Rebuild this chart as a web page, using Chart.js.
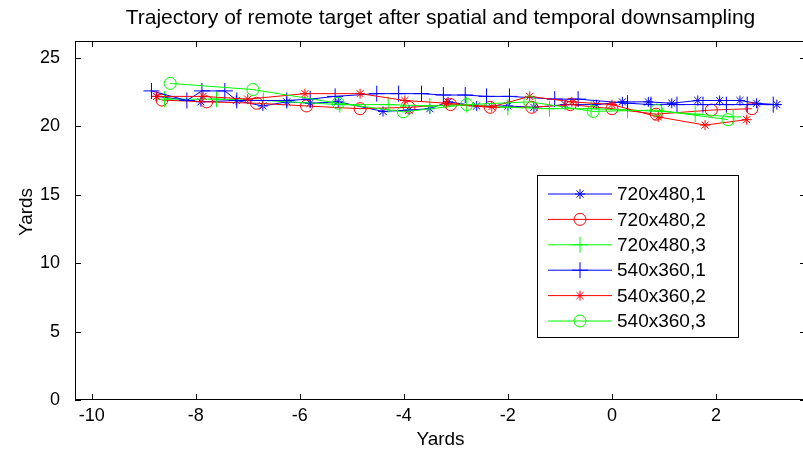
<!DOCTYPE html>
<html>
<head>
<meta charset="utf-8">
<script src="https://cdn.jsdelivr.net/npm/chart.js@4.4.1/dist/chart.umd.min.js"></script>
<style>
  html, body { margin: 0; padding: 0; background: #fff; overflow: hidden; }
  #wrap { width: 803px; height: 458px; overflow: hidden; }
</style>
</head>
<body>
<div id="wrap"><canvas id="chart" width="808" height="458"></canvas></div>
<script>
// trajectories (yards)
const x_720_1 = [-8.75, -7.9, -7.22, -6.71, -6.25, -5.8, -5.26, -4.4, -3.9, -3.5, -3.15, -2.6, -2.0, -1.5, -0.9, -0.3, 0.2, 0.7, 1.15, 1.65, 2.07, 2.46, 2.78, 3.17];
const y_720_1 = [22.2, 21.8, 21.9, 21.5, 21.8, 21.7, 21.8, 21.1, 21.2, 21.3, 21.8, 21.5, 21.5, 21.4, 21.6, 21.6, 21.8, 21.8, 21.7, 21.9, 21.9, 21.9, 21.7, 21.6];

const x_720_2 = [-8.65, -7.79, -6.83, -5.87, -4.84, -3.9, -3.1, -2.34, -1.54, -0.8, 0.0, 0.85, 1.91, 2.69];
const y_720_2 = [21.93, 21.8, 21.7, 21.5, 21.3, 21.4, 21.6, 21.4, 21.4, 21.6, 21.3, 20.9, 21.2, 21.3];

const x_720_3 = [-8.6, -7.6, -6.7, -5.23, -4.3, -3.5, -2.79, -2.0, -1.2, -0.4, 0.3, 0.95, 1.6, 2.33];
const y_720_3 = [22.0, 22.0, 21.9, 21.6, 21.6, 21.5, 21.6, 21.4, 21.3, 21.3, 21.2, 21.1, 20.9, 20.7];

const x_540_1 = [-8.85, -8.17, -7.88, -7.44, -7.21, -6.25, -5.8, -5.32, -4.52, -4.1, -3.66, -3.24, -2.82, -2.41, -1.97, -1.1, -0.65, 0.3, 0.75, 1.25, 1.75, 2.2, 2.6, 3.1];
const y_540_1 = [22.6, 21.9, 22.6, 22.6, 21.9, 21.9, 22.0, 22.2, 22.4, 22.4, 22.4, 22.3, 22.3, 22.2, 22.2, 22.0, 22.0, 21.7, 21.6, 21.6, 21.6, 21.6, 21.6, 21.6];

const x_540_2 = [-8.75, -7.86, -7.0, -5.9, -4.84, -3.98, -3.18, -2.31, -1.58, -0.77, 0.0, 0.89, 1.79, 2.59];
const y_540_2 = [22.2, 22.2, 22.0, 22.4, 22.4, 21.9, 21.7, 21.44, 22.2, 21.8, 21.6, 20.7, 20.1, 20.5];

const x_540_3 = [-8.49, -6.9, -5.26, -4.01, -2.79, -1.58, -0.36, 0.86, 2.23];
const y_540_3 = [23.15, 22.7, 21.7, 21.07, 21.6, 21.8, 21.1, 21.2, 20.5];

const seriesLabels = ['720x480,1', '720x480,2', '720x480,3', '540x360,1', '540x360,2', '540x360,3'];
const xTicks = [-10, -8, -6, -4, -2, 0, 2];
const yTicks = [0, 5, 10, 15, 20, 25];
const yLabel = 'Yards';

const FONT = '"Liberation Sans", Arial, sans-serif';
const AXES_RIGHT = 806; // right spine sits just past the picture edge

function pts(xs, ys) {
  return xs.map((x, i) => ({x: x, y: ys[i]}));
}

const styles = [
  {color: '#0000ff', point: 'star', r: 5},
  {color: '#ff0000', point: 'circle', r: 6},
  {color: '#00ff00', point: 'cross', r: 8},
  {color: '#0000ff', point: 'cross', r: 8},
  {color: '#ff0000', point: 'star', r: 5},
  {color: '#00ff00', point: 'circle', r: 6}
];
const allData = [
  pts(x_720_1, y_720_1), pts(x_720_2, y_720_2), pts(x_720_3, y_720_3),
  pts(x_540_1, y_540_1), pts(x_540_2, y_540_2), pts(x_540_3, y_540_3)
];

const datasets = allData.map((d, i) => ({
  label: seriesLabels[i],
  data: d,
  showLine: true,
  borderColor: styles[i].color,
  borderWidth: 1,
  pointStyle: styles[i].point,
  pointRadius: styles[i].r,
  pointBorderColor: styles[i].color,
  pointBackgroundColor: 'rgba(0,0,0,0)',
  pointBorderWidth: 1,
  order: allData.length - i  // later series on top, like matlab
}));

// box with inward ticks on all sides + legend inside the axes
const matlabAxes = {
  id: 'matlabAxes',
  afterLayout(chart) {
    // stretch the x range out to the right spine
    const sx = chart.scales.x;
    const a = chart.chartArea;
    a.right = AXES_RIGHT;
    a.width = a.right - a.left;
    sx.right = AXES_RIGHT;
    sx.width = sx.right - sx.left;
    sx.configure();
    if (chart.titleBlock) {
      chart.titleBlock.left = a.left;
      chart.titleBlock.right = a.right;
      chart.titleBlock.width = a.width;
    }
  },
  afterDraw(chart) {
    const ctx = chart.ctx;
    const a = chart.chartArea;
    const sx = chart.scales.x, sy = chart.scales.y;
    const tl = 6;
    ctx.save();
    ctx.strokeStyle = '#000';
    ctx.lineWidth = 1;
    ctx.strokeRect(a.left + 0.5, a.top + 0.5, a.right - a.left - 1, a.bottom - a.top - 1);
    ctx.beginPath();
    xTicks.forEach(v => {
      const px = Math.round(sx.getPixelForValue(v)) + 0.5;
      ctx.moveTo(px, a.bottom); ctx.lineTo(px, a.bottom - tl);
      ctx.moveTo(px, a.top); ctx.lineTo(px, a.top + tl);
    });
    yTicks.forEach(v => {
      const py = Math.round(sy.getPixelForValue(v)) + 0.5;
      ctx.moveTo(a.left, py); ctx.lineTo(a.left + tl, py);
      ctx.moveTo(a.right, py); ctx.lineTo(a.right - tl, py);
    });
    ctx.stroke();

    // y label, sits a little above the axes middle in the original
    ctx.save();
    ctx.translate(27, 212);
    ctx.rotate(-Math.PI / 2);
    ctx.font = '19px ' + FONT;
    ctx.fillStyle = '#000';
    ctx.textAlign = 'center';
    ctx.textBaseline = 'middle';
    ctx.fillText(yLabel, 0, 0);
    ctx.restore();

    // legend
    const bx = 537, by = 175, bw = 201, bh = 162;
    ctx.fillStyle = '#fff';
    ctx.fillRect(bx, by, bw, bh);
    ctx.strokeRect(bx + 0.5, by + 0.5, bw, bh);
    ctx.font = '19px ' + FONT;
    ctx.textBaseline = 'middle';
    ctx.textAlign = 'left';
    chart.data.datasets.forEach((ds, i) => {
      const y = by + 19 + i * 25.4;
      ctx.strokeStyle = ds.borderColor;
      ctx.beginPath();
      ctx.moveTo(548, y); ctx.lineTo(612, y);
      ctx.stroke();
      ctx.fillStyle = 'rgba(0,0,0,0)';
      Chart.helpers.drawPoint(ctx, {pointStyle: ds.pointStyle, radius: ds.pointRadius, rotation: 0, borderWidth: 1}, 580, y);
      ctx.fillStyle = '#000';
      ctx.fillText(ds.label, 617, y + 1);
    });
    ctx.restore();
  }
};

new Chart(document.getElementById('chart'), {
  type: 'scatter',
  data: {datasets: datasets},
  options: {
    responsive: false,
    animation: false,
    layout: {padding: {left: 0, right: 0, top: 0, bottom: 0}},
    plugins: {
      legend: {display: false},
      tooltip: {enabled: false},
      title: {
        display: true,
        fullSize: false,
        text: 'Trajectory of remote target after spatial and temporal downsampling',
        color: '#000',
        font: {family: FONT, size: 21, weight: 'normal', lineHeight: 1.2},
        padding: {top: 6, bottom: 9.8}
      }
    },
    scales: {
      x: {
        type: 'linear',
        min: -10.32,
        max: 3.73,
        afterBuildTicks: s => { s.ticks = xTicks.map(v => ({value: v})); },
        afterFit: s => { s.height = 58; s.paddingLeft = 0; s.paddingRight = 0; },
        grid: {display: false},
        border: {display: false},
        ticks: {color: '#000', font: {family: FONT, size: 18}, padding: -3, maxRotation: 0},
        title: {display: true, text: 'Yards', color: '#000', font: {family: FONT, size: 19}, padding: {top: 0, bottom: 7}}
      },
      y: {
        type: 'linear',
        min: 0,
        max: 26.25,
        afterBuildTicks: s => { s.ticks = yTicks.map(v => ({value: v})); },
        afterFit: s => { s.width = 75; s.paddingTop = 0; s.paddingBottom = 0; },
        grid: {display: false},
        border: {display: false},
        ticks: {color: '#000', font: {family: FONT, size: 18}, padding: 7},
        title: {display: false}
      }
    }
  },
  plugins: [matlabAxes]
});
</script>
</body>
</html>
